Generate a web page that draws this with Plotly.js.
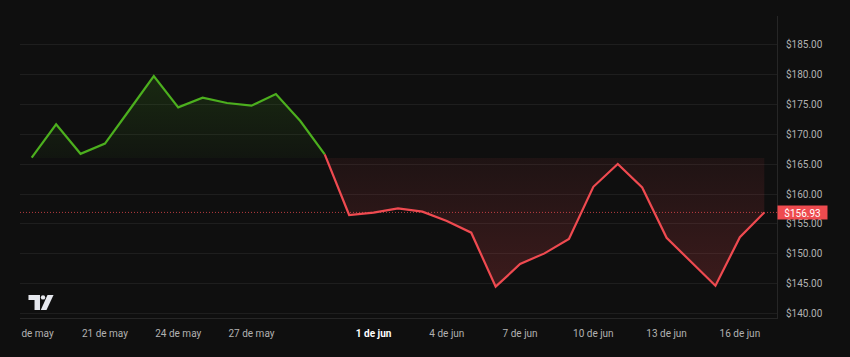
<!DOCTYPE html>
<html>
<head>
<meta charset="utf-8">
<script src="https://cdn.plot.ly/plotly-3.0.1.min.js"></script>
<style>
html,body{margin:0;padding:0;background:#0f0f0f;}
#chart{width:850px;height:357px;}
</style>
</head>
<body>
<div id="chart"></div>
<script>
// ---- data ----
const dates = [
  '2024-05-18','2024-05-19','2024-05-20','2024-05-21','2024-05-22','2024-05-23',
  '2024-05-24','2024-05-25','2024-05-26','2024-05-27','2024-05-28','2024-05-29',
  '2024-05-30','2024-05-31','2024-06-01','2024-06-02','2024-06-03','2024-06-04',
  '2024-06-05','2024-06-06','2024-06-07','2024-06-08','2024-06-09','2024-06-10',
  '2024-06-11','2024-06-12','2024-06-13','2024-06-14','2024-06-15','2024-06-16',
  '2024-06-17'
];
const prices = [
  166.05, 171.6, 166.7, 168.4, 174.0, 179.67,
  174.45, 176.06, 175.17, 174.72, 176.67, 172.17,
  166.6, 156.5, 156.9, 157.6, 157.05, 155.5,
  153.55, 144.55, 148.33, 150.1, 152.5, 161.2,
  165.0, 161.1, 152.7, 148.7, 144.7, 152.8,
  156.93
];
const baselineLevel = 166.0;
const splitIndex = 12; // last point drawn above baseline (30 May)

const tickDates = ['2024-05-18T05:45','2024-05-21','2024-05-24','2024-05-27','2024-06-01',
                   '2024-06-04','2024-06-07','2024-06-10','2024-06-13','2024-06-16'];
const tickLabels = ['de may','21 de may','24 de may','27 de may','<b><span style="color:#ffffff">1 de jun</span></b>',
                    '4 de jun','7 de jun','10 de jun','13 de jun','16 de jun'];

// ---- styles ----
const GREEN = '#4caf1e';
const RED = '#ef4a50';
const BG = '#0f0f0f';
const FONT = 'Roboto, "Open Sans", sans-serif';

const upX = dates.slice(0, splitIndex + 1);
const upY = prices.slice(0, splitIndex + 1);
const dnX = dates.slice(splitIndex);
const dnY = prices.slice(splitIndex);
const lastPrice = prices[prices.length - 1];

const traces = [
  {x: upX, y: upX.map(() => baselineLevel), mode: 'lines', line: {width: 0, color: 'rgba(0,0,0,0)'}, hoverinfo: 'skip', showlegend: false},
  {x: upX, y: upY, mode: 'lines', line: {color: GREEN, width: 2.2}, fill: 'tonexty',
   fillgradient: {type: 'vertical', start: baselineLevel, stop: 180,
     colorscale: [[0, 'rgba(76,175,30,0.04)'], [1, 'rgba(76,175,30,0.17)']]},
   hoverinfo: 'skip', showlegend: false},
  {x: dnX, y: dnX.map(() => baselineLevel), mode: 'lines', line: {width: 0, color: 'rgba(0,0,0,0)'}, hoverinfo: 'skip', showlegend: false},
  {x: dnX, y: dnY, mode: 'lines', line: {color: RED, width: 2.2}, fill: 'tonexty',
   fillgradient: {type: 'vertical', start: baselineLevel, stop: 144.5,
     colorscale: [[0, 'rgba(239,74,80,0.07)'], [1, 'rgba(239,74,80,0.2)']]},
   hoverinfo: 'skip', showlegend: false}
];

// logo helper (pixel -> paper)
const L = 20, R = 777, T = 16, B = 318;
function px(x){ return ((x - L) / (R - L)).toFixed(4); }
function py(y){ return ((B - y) / (B - T)).toFixed(4); }
function poly(pts){ return 'M' + pts.map(p => px(p[0]) + ',' + py(p[1])).join(' L') + ' Z'; }
const logoColor = '#e6e8ee';

const layout = {
  width: 850, height: 357,
  margin: {l: L, r: 850 - R, t: T, b: 357 - B, pad: 0},
  paper_bgcolor: BG, plot_bgcolor: BG,
  font: {family: FONT, size: 10, color: '#b2b2b2'},
  showlegend: false,
  xaxis: {
    type: 'date', range: ['2024-05-17T12:30', '2024-06-17T12:30'],
    tickmode: 'array', tickvals: tickDates, ticktext: tickLabels,
    showgrid: false, zeroline: false, showline: true, linecolor: '#262626', linewidth: 1,
    ticks: '', ticklabelstandoff: 6,
    tickfont: {family: FONT, size: 10, color: '#b2b2b2'}, fixedrange: true
  },
  yaxis: {
    side: 'right', range: [139.33, 189.67], tick0: 140, dtick: 5,
    tickprefix: '$', tickformat: '.2f',
    showgrid: true, gridcolor: '#1e1e1e', gridwidth: 1, zeroline: false,
    showline: true, linecolor: '#262626', linewidth: 1,
    ticks: '', ticklabelstandoff: 6,
    tickfont: {family: FONT, size: 10, color: '#b2b2b2'}, fixedrange: true
  },
  shapes: [
    {type: 'line', xref: 'paper', x0: 0, x1: 1, yref: 'y', y0: lastPrice, y1: lastPrice,
     line: {color: 'rgba(239,74,80,0.75)', width: 1, dash: '1px,2px'}, layer: 'below'},
    {type: 'path', xref: 'paper', yref: 'paper', fillcolor: logoColor, line: {width: 0},
     path: poly([[28.5,295],[40,295],[40,310],[34.5,310],[34.5,300],[28.5,300]])},
    {type: 'circle', xref: 'paper', yref: 'paper', fillcolor: logoColor, line: {width: 0},
     x0: px(40.8), x1: px(45.2), y0: py(295.2), y1: py(299.6)},
    {type: 'path', xref: 'paper', yref: 'paper', fillcolor: logoColor, line: {width: 0},
     path: poly([[47.5,295],[53.5,295],[46.5,310],[40.8,310]])}
  ],
  annotations: [
    {xref: 'paper', x: 1, xanchor: 'left', yref: 'y', y: lastPrice, yanchor: 'middle',
     text: '$' + lastPrice.toFixed(2), showarrow: false, align: 'center',
     bgcolor: '#ee4b4f', borderpad: 2, width: 45, height: 9,
     font: {family: FONT, size: 10, color: '#ffffff'}}
  ]
};

Plotly.newPlot('chart', traces, layout, {staticPlot: true, displayModeBar: false});
</script>
</body>
</html>
